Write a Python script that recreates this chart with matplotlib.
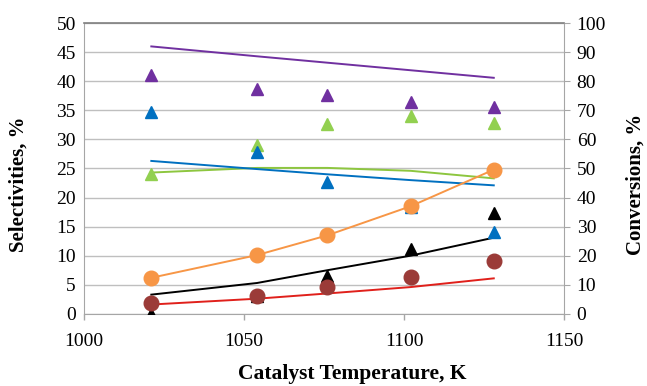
import matplotlib
matplotlib.use("Agg")
import matplotlib.pyplot as plt

temps = [1021, 1054, 1076, 1102, 1128]

purple_line = [46.0, 44.3, 43.2, 41.9, 40.6]
purple_tri = [41.0, 38.7, 37.6, 36.4, 35.5]
green_tri = [24.0, 29.0, 32.6, 34.0, 32.8]
green_line = [24.3, 25.1, 25.1, 24.6, 23.3]
blue_tri = [34.8, 27.8, 22.7, 18.3, 14.0]
blue_line = [26.3, 24.9, 24.0, 23.0, 22.1]
orange_pts = [6.2, 10.1, 13.5, 18.5, 24.8]
black_tri = [0.0, 3.0, 6.5, 11.1, 17.3]
black_line = [3.3, 5.3, 7.5, 10.0, 13.1]
red_line = [1.6, 2.6, 3.5, 4.6, 6.1]
brown_pts = [1.8, 3.1, 4.6, 6.4, 9.0]

left_ticks = [0, 5, 10, 15, 20, 25, 30, 35, 40, 45, 50]
right_ticks = [0, 10, 20, 30, 40, 50, 60, 70, 80, 90, 100]
x_ticks = [1000, 1050, 1100, 1150]

plt.rcParams['font.family'] = ['Liberation Serif', 'DejaVu Serif']

fig = plt.figure(figsize=(6.47, 3.86), dpi=100)
ax = fig.add_axes([0.130, 0.187, 0.742, 0.753])

grid_c = '#BFBFBF'
for t in left_ticks:
    ax.axhline(t, color=grid_c, lw=1.0, zorder=0)

tri_ms = 8.5
circ_ms = 10.5
lw = 1.4

ax.plot(temps, purple_line, color='#7030A0', lw=lw, zorder=2)
ax.plot(temps, green_line, color='#8DC63F', lw=lw, zorder=2)
ax.plot(temps, blue_line, color='#0070C0', lw=lw, zorder=2)
ax.plot(temps, black_line, color='black', lw=lw, zorder=2)
ax.plot(temps, red_line, color='#E0201B', lw=lw, zorder=2)

ax.plot(temps, purple_tri, '^', color='#7030A0', ms=tri_ms, ls='none', zorder=3)
ax.plot(temps, green_tri, '^', color='#92D050', ms=tri_ms, ls='none', zorder=3)
ax.plot(temps, blue_tri, '^', color='#0070C0', ms=tri_ms, ls='none', zorder=3)
ax.plot(temps, black_tri, '^', color='black', ms=tri_ms, ls='none', zorder=3)

ax.plot(temps, orange_pts, 'o-', color='#F79646', mfc='#F79646', mec='#F79646',
        ms=circ_ms, lw=lw, zorder=4)
ax.plot(temps, brown_pts, 'o', color='#9B3B38', ms=circ_ms, ls='none', zorder=4)

ax.set_xlim(1000, 1150)
ax.set_ylim(0, 50)
ax.set_xticks(x_ticks)
ax.set_yticks(left_ticks)
ax.tick_params(axis='both', labelsize=14, colors='black', length=4, width=1, color='#A6A6A6')
ax.tick_params(axis='y', length=0, pad=6)
ax.tick_params(axis='x', direction='out', pad=10)

for s in ['left', 'bottom', 'right']:
    ax.spines[s].set_color('#A6A6A6')
ax.spines['top'].set_color('#7F7F7F')
ax.spines['top'].set_linewidth(1.2)

ax2 = ax.twinx()
ax2.set_ylim(0, 100)
ax2.set_yticks(right_ticks)
ax2.tick_params(axis='y', labelsize=14, length=4, color='#A6A6A6', pad=5)
for s in ax2.spines.values():
    s.set_visible(False)

fig.text(19 / 647, 0.523, 'Selectivities, %', rotation=90, ha='center', va='center',
         fontsize=15, fontweight='bold')
fig.text(636 / 647, 0.523, 'Conversions, %', rotation=90, ha='center', va='center',
         fontsize=15, fontweight='bold')
fig.text(352 / 647, 0.031, 'Catalyst Temperature, K', ha='center', va='center',
         fontsize=15.5, fontweight='bold')

fig.savefig('out.png', dpi=100)
